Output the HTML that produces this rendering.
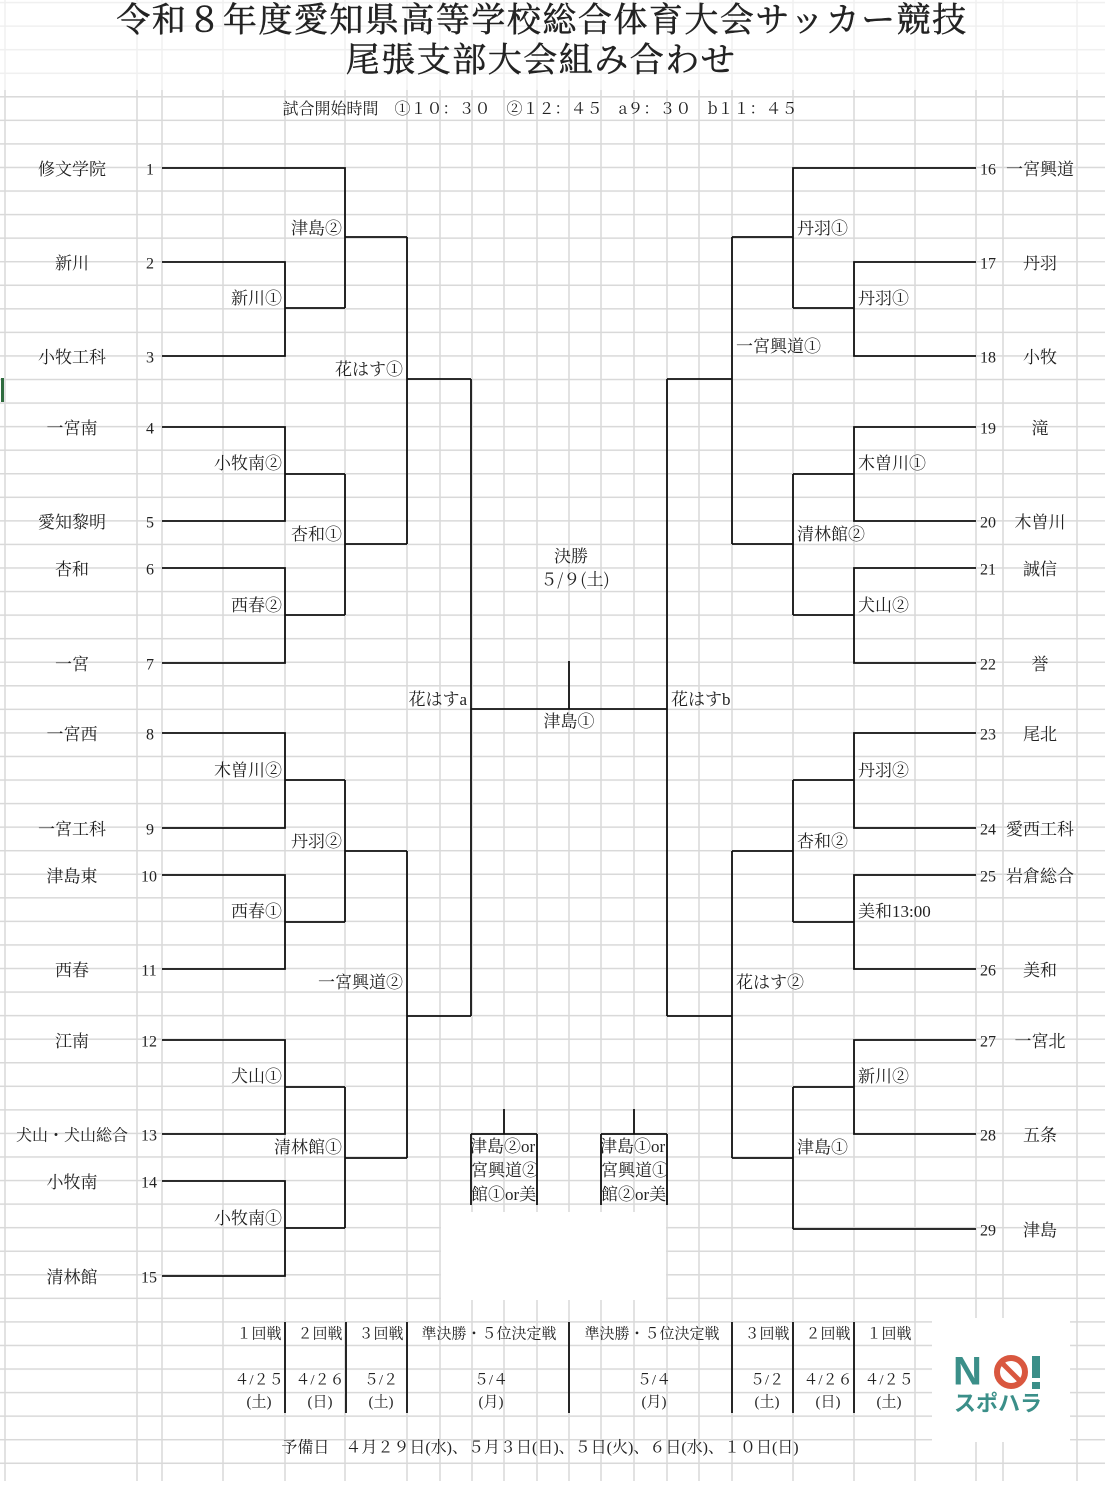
<!DOCTYPE html>
<html><head><meta charset="utf-8"><style>
body{margin:0;background:#fff}
svg text{font-family:"Liberation Serif","Noto Serif CJK SC","Noto Sans CJK JP",serif;fill:#222;dominant-baseline:middle}
</style></head><body>
<svg width="1105" height="1481" viewBox="0 0 1105 1481" xmlns="http://www.w3.org/2000/svg">
<defs>
<pattern id="hp" x="0" y="1.8" width="1105" height="23.56" patternUnits="userSpaceOnUse">
<rect x="0" y="0" width="1105" height="1.5" fill="#d9d9d9"/>
</pattern>
<clipPath id="c1"><rect x="471" y="1134" width="66" height="72"/></clipPath><clipPath id="c2"><rect x="601" y="1134" width="66" height="72"/></clipPath>
</defs>
<rect x="0" y="0" width="1105" height="1481" fill="url(#hp)"/>
<g stroke="#d9d9d9" stroke-width="1.5">
<line x1="5" y1="0" x2="5" y2="1481"/><line x1="137" y1="0" x2="137" y2="1481"/><line x1="162" y1="0" x2="162" y2="1481"/><line x1="223" y1="0" x2="223" y2="1481"/><line x1="285" y1="0" x2="285" y2="1481"/><line x1="345" y1="0" x2="345" y2="1481"/><line x1="407" y1="0" x2="407" y2="1481"/><line x1="440" y1="0" x2="440" y2="1481"/><line x1="472" y1="0" x2="472" y2="1481"/><line x1="504" y1="0" x2="504" y2="1481"/><line x1="537" y1="0" x2="537" y2="1481"/><line x1="569" y1="0" x2="569" y2="1481"/><line x1="601" y1="0" x2="601" y2="1481"/><line x1="634" y1="0" x2="634" y2="1481"/><line x1="667" y1="0" x2="667" y2="1481"/><line x1="699" y1="0" x2="699" y2="1481"/><line x1="732" y1="0" x2="732" y2="1481"/><line x1="793" y1="0" x2="793" y2="1481"/><line x1="854" y1="0" x2="854" y2="1481"/><line x1="915" y1="0" x2="915" y2="1481"/><line x1="976" y1="0" x2="976" y2="1481"/><line x1="1003" y1="0" x2="1003" y2="1481"/><line x1="1077" y1="0" x2="1077" y2="1481"/>
</g>
<rect x="441" y="1212" width="225" height="88" fill="#fff"/>
<rect x="932" y="1318" width="138" height="124" fill="#fff"/>
<rect x="0" y="0" width="1105" height="90" fill="#fff" opacity="0.6"/>
<rect x="1" y="378" width="3" height="24" fill="#2e6b3e"/>
<g stroke="#111" stroke-width="1.8" fill="none">
<path d="M162 168H345V308M162 262H285V356H162M285 308H345M345 237H407"/>
<path d="M162 427H285V521H162M285 474H345M162 568H285V663H162M285 615H345M345 474V615M345 544H407M407 237V544M407 379H471"/>
<path d="M162 733H285V828H162M285 780H345M162 875H285V969H162M285 922H345M345 780V922M345 851H407"/>
<path d="M162 1040H285V1134H162M285 1087H345M162 1181H285V1276H162M285 1228H345M345 1087V1228M345 1158H407M407 851V1158M407 1016H471"/>
<path d="M471 379V1016M471 709H667M569 661V709M667 379V1016"/>
<path d="M976 168H793V308M976 262H854V356H976M854 308H793M793 237H732"/>
<path d="M976 427H854V521H976M854 474H793M976 568H854V663H976M854 615H793M793 474V615M793 544H732M732 237V544M732 379H667"/>
<path d="M976 733H854V828H976M854 780H793M976 875H854V969H976M854 922H793M793 780V922M793 851H732"/>
<path d="M976 1040H854V1134H976M854 1087H793M976 1229H793M793 1087V1229M793 1158H732M732 851V1158M732 1016H667"/>
<path d="M504 1109V1134M471 1134H537M471 1134V1205M537 1134V1205M634 1109V1134M601 1134H667M601 1134V1205M667 1134V1205"/>
<path d="M285 1322V1413M346 1322V1413M407 1322V1413M569 1322V1413M732 1322V1413M793 1322V1413M854 1322V1413"/>
</g>
<g transform="translate(0,3)">
<text x="542" y="20" font-size="34" text-anchor="middle" letter-spacing="1.5" stroke="#222" stroke-width="0.5" style="font-family:'Noto Serif CJK SC',serif">令和８年度愛知県高等学校総合体育大会サッカー競技</text>
<text x="541" y="60" font-size="34" text-anchor="middle" letter-spacing="1.5" stroke="#222" stroke-width="0.5" style="font-family:'Noto Serif CJK SC',serif">尾張支部大会組み合わせ</text>
<text x="540" y="107" font-size="16" text-anchor="middle" style="font-family:'Noto Serif CJK SC',serif" xml:space="preserve">試合開始時間　①１０：３０　②１２：４５　a９：３０　b１１：４５</text>
<g font-size="17" text-anchor="middle">
<text x="72" y="168">修文学院</text><text x="72" y="262">新川</text><text x="72" y="356">小牧工科</text><text x="72" y="427">一宮南</text><text x="72" y="521">愛知黎明</text><text x="72" y="568">杏和</text><text x="72" y="663">一宮</text><text x="72" y="733">一宮西</text><text x="72" y="828">一宮工科</text><text x="72" y="875">津島東</text><text x="72" y="969">西春</text><text x="72" y="1040">江南</text><text x="72" y="1134" font-size="16">犬山・犬山総合</text><text x="72" y="1181">小牧南</text><text x="72" y="1276">清林館</text>
<text x="1040" y="168">一宮興道</text><text x="1040" y="262">丹羽</text><text x="1040" y="356">小牧</text><text x="1040" y="427">滝</text><text x="1040" y="521">木曽川</text><text x="1040" y="568">誠信</text><text x="1040" y="663">誉</text><text x="1040" y="733">尾北</text><text x="1040" y="828">愛西工科</text><text x="1040" y="875">岩倉総合</text><text x="1040" y="969">美和</text><text x="1040" y="1040">一宮北</text><text x="1040" y="1134">五条</text><text x="1040" y="1229">津島</text>
</g>
<g font-size="16" text-anchor="middle">
<text x="150" y="168">1</text><text x="150" y="262">2</text><text x="150" y="356">3</text><text x="150" y="427">4</text><text x="150" y="521">5</text><text x="150" y="568">6</text><text x="150" y="663">7</text><text x="150" y="733">8</text><text x="150" y="828">9</text><text x="149" y="875">10</text><text x="149" y="969">11</text><text x="149" y="1040">12</text><text x="149" y="1134">13</text><text x="149" y="1181">14</text><text x="149" y="1276">15</text>
<text x="988" y="168">16</text><text x="988" y="262">17</text><text x="988" y="356">18</text><text x="988" y="427">19</text><text x="988" y="521">20</text><text x="988" y="568">21</text><text x="988" y="663">22</text><text x="988" y="733">23</text><text x="988" y="828">24</text><text x="988" y="875">25</text><text x="988" y="969">26</text><text x="988" y="1040">27</text><text x="988" y="1134">28</text><text x="988" y="1229">29</text>
</g>
<g font-size="17" text-anchor="end">
<text x="342" y="227">津島②</text><text x="282" y="297">新川①</text><text x="403" y="368">花はす①</text><text x="282" y="462">小牧南②</text><text x="342" y="533">杏和①</text><text x="282" y="604">西春②</text><text x="467" y="698">花はすa</text><text x="282" y="769">木曽川②</text><text x="342" y="840">丹羽②</text><text x="282" y="910">西春①</text><text x="403" y="981">一宮興道②</text><text x="282" y="1075">犬山①</text><text x="342" y="1146">清林館①</text><text x="282" y="1217">小牧南①</text>
</g>
<g font-size="17">
<text x="797" y="227">丹羽①</text><text x="858" y="297">丹羽①</text><text x="736" y="345">一宮興道①</text><text x="858" y="462">木曽川①</text><text x="797" y="533">清林館②</text><text x="858" y="604">犬山②</text><text x="671" y="698">花はすb</text><text x="858" y="769">丹羽②</text><text x="797" y="840">杏和②</text><text x="858" y="910">美和13:00</text><text x="736" y="981">花はす②</text><text x="858" y="1075">新川②</text><text x="797" y="1146">津島①</text>
</g>
<g font-size="17" text-anchor="middle">
<text x="571" y="555">決勝</text><text x="575" y="578" style="font-family:'Noto Serif CJK SC',serif">５/９(土)</text><text x="569" y="720">津島①</text>
</g>
</g>
<g font-size="17" clip-path="url(#c1)"><text x="470" y="1148">津島②or</text><text x="454" y="1172">一宮興道②</text><text x="437" y="1196">清林館①or美和</text></g>
<g font-size="17" clip-path="url(#c2)"><text x="600" y="1148">津島①or</text><text x="584" y="1172">一宮興道①</text><text x="567" y="1196">清林館②or美和</text></g>
<g font-size="15" text-anchor="middle" transform="translate(0,3)" style="font-family:'Noto Serif CJK SC',serif">
<text x="259" y="1332">１回戦</text><text x="320" y="1332">２回戦</text><text x="381" y="1332">３回戦</text><text x="489" y="1332">準決勝・５位決定戦</text><text x="652" y="1332">準決勝・５位決定戦</text><text x="767" y="1332">３回戦</text><text x="828" y="1332">２回戦</text><text x="889" y="1332">１回戦</text>
<text x="259" y="1378">４/２５</text><text x="320" y="1378">４/２６</text><text x="381" y="1378">５/２</text><text x="491" y="1378">５/４</text><text x="654" y="1378">５/４</text><text x="767" y="1378">５/２</text><text x="828" y="1378">４/２６</text><text x="889" y="1378">４/２５</text>
<text x="259" y="1400">(土)</text><text x="320" y="1400">(日)</text><text x="381" y="1400">(土)</text><text x="491" y="1400">(月)</text><text x="654" y="1400">(月)</text><text x="767" y="1400">(土)</text><text x="828" y="1400">(日)</text><text x="889" y="1400">(土)</text>
<text x="540" y="1446" font-size="16">予備日　４月２９日(水)、５月３日(日)、５日(火)、６日(水)、１０日(日)</text>
</g>
<g>
<text x="953" y="1374" font-size="40" font-weight="bold" style="font-family:'Liberation Sans',sans-serif;fill:#3b8f89">N</text>
<circle cx="1011" cy="1372" r="14" fill="none" stroke="#d9573f" stroke-width="6"/>
<line x1="1003" y1="1364" x2="1019" y2="1380" stroke="#d9573f" stroke-width="5"/>
<rect x="1032" y="1356" width="8" height="22" fill="#3b8f89"/><rect x="1032" y="1382" width="8" height="7" fill="#3b8f89"/>
<text x="954" y="1405" font-size="22" font-weight="bold" style="font-family:'Noto Sans CJK JP',sans-serif;fill:#3b8f89">スポハラ</text>
</g>
</svg>
</body></html>
